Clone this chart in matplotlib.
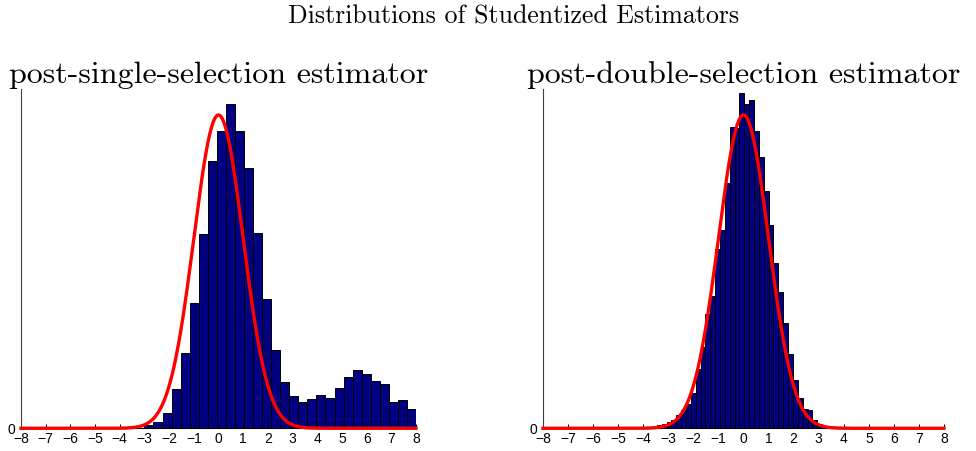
import matplotlib
matplotlib.use("Agg")
import matplotlib.pyplot as plt
import numpy as np

# bar heights (density scale, same units as the N(0,1) curve)
single_edges = np.linspace(-3.0, 8.0, 31)
single_heights = [0.004, 0.008, 0.020, 0.050, 0.096, 0.159, 0.248, 0.340, 0.379, 0.413,
                  0.379, 0.331, 0.249, 0.165, 0.100, 0.059, 0.041, 0.034, 0.037, 0.043,
                  0.038, 0.051, 0.065, 0.074, 0.069, 0.060, 0.056, 0.034, 0.036, 0.024]

double_edges = np.linspace(-3.46, 3.33, 36)
double_heights = [0.004, 0.005, 0.008, 0.011, 0.017, 0.023, 0.031, 0.045, 0.075, 0.104,
                  0.145, 0.169, 0.228, 0.252, 0.312, 0.383, 0.382, 0.427, 0.413, 0.418,
                  0.379, 0.346, 0.302, 0.259, 0.211, 0.173, 0.134, 0.094, 0.062, 0.038,
                  0.025, 0.023, 0.011, 0.005, 0.003]

panel_titles = ["post-single-selection estimator", "post-double-selection estimator"]
x_ticks = list(range(-8, 9))

plt.rcParams["axes.formatter.use_mathtext"] = True

figure = plt.figure(figsize=(9.76, 4.51), dpi=100)
ax_single = figure.add_axes([21 / 976, 1 - 428.3 / 451, 395 / 976, 339.3 / 451])
ax_double = figure.add_axes([543 / 976, 1 - 428.3 / 451, 401 / 976, 339.3 / 451])

grid = np.linspace(-8, 8, 801)
normal_pdf = np.exp(-grid ** 2 / 2) / np.sqrt(2 * np.pi)

for ax, edges, heights, title in [(ax_single, single_edges, single_heights, panel_titles[0]),
                                  (ax_double, double_edges, double_heights, panel_titles[1])]:
    ax.bar(edges[:-1], heights, width=np.diff(edges), align="edge",
           color="#000080", edgecolor="black", linewidth=0.7)
    ax.plot(grid, normal_pdf, color="red", linewidth=2.4, zorder=5, clip_on=False)
    ax.set_xlim(-8, 8); ax.set_ylim(0, 0.432)
    ax.set_xticks(x_ticks)
    ax.set_xticklabels(["\u2212%d" % -t if t < 0 else str(t) for t in x_ticks],
                       family="Liberation Sans", fontsize=10)
    ax.set_yticks([0]); ax.set_yticklabels(["0"], family="Liberation Sans", fontsize=10)
    ax.tick_params(axis="x", direction="in", length=3, pad=3, width=0.7)
    ax.tick_params(axis="y", direction="in", length=0, pad=4)
    ax.spines["top"].set_visible(False)
    ax.spines["right"].set_visible(False)
    ax.spines["left"].set_color("#404040")
    ax.set_title(title, family="cmr10", fontsize=23, pad=3)

figure.suptitle("Distributions of Studentized Estimators", family="cmr10", fontsize=18.6,
                x=0.526, y=0.99)
figure.savefig("out.png", dpi=100)
